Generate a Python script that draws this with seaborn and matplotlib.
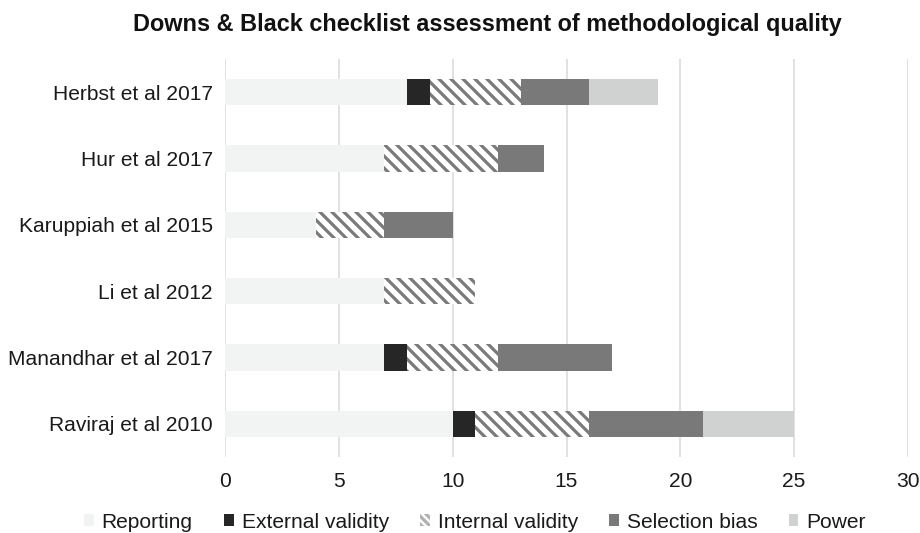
import numpy as np
import pandas as pd
import seaborn as sns
import matplotlib.pyplot as plt
from matplotlib.patches import Patch

# values
studies = ["Herbst et al 2017", "Hur et al 2017", "Karuppiah et al 2015",
           "Li et al 2012", "Manandhar et al 2017", "Raviraj et al 2010"]
reporting = [8, 7, 4, 7, 7, 10]
external_validity = [1, 0, 0, 0, 1, 1]
internal_validity = [4, 5, 3, 4, 4, 5]
selection_bias = [3, 2, 3, 0, 5, 5]
power = [3, 0, 0, 0, 0, 4]

categories = ["Reporting", "External validity", "Internal validity", "Selection bias", "Power"]
colors = ["#f2f4f3", "#262626", "#ffffff", "#797979", "#d0d2d1"]
hatches = [None, None, "\\\\", None, None]

sns.set_theme(style="white")
plt.rcParams["font.family"] = ["Liberation Sans", "DejaVu Sans"]
plt.rcParams["hatch.linewidth"] = 3.2
plt.rcParams["hatch.color"] = "#7a7a7a"

DPI = 72
fig = plt.figure(figsize=(920 / DPI, 533 / DPI), dpi=DPI)
ax = fig.add_axes([225 / 920, 1 - 457 / 533, 683 / 920, 398 / 533])

df = pd.DataFrame({"study": studies, "Reporting": reporting,
                   "External validity": external_validity,
                   "Internal validity": internal_validity,
                   "Selection bias": selection_bias, "Power": power})
cum = df[categories].cumsum(axis=1)

# draw cumulative totals from widest to narrowest so segments stack
for i in reversed(range(len(categories))):
    cat = categories[i]
    kw = dict(linewidth=0)
    if hatches[i]:
        kw.update(hatch=hatches[i], edgecolor="#7a7a7a")
    sns.barplot(x=cum[cat], y=df["study"], orient="h", color=colors[i],
                saturation=1, width=0.4, ax=ax, **kw)

ax.set_xlim(0, 30)
ax.set_ylim(5.5, -0.5)
ax.set_xticks(range(0, 31, 5))
ax.set_xlabel("")
ax.set_ylabel("")
ax.grid(axis="x", color="#dedede", linewidth=1.8)
ax.set_axisbelow(True)
for s in ax.spines.values():
    s.set_visible(False)
ax.tick_params(axis="both", length=0, labelsize=21, colors="#1a1a1a")
ax.tick_params(axis="y", pad=12)
ax.tick_params(axis="x", pad=15)

fig.text(487 / 920, 1 - 24 / 533, "Downs & Black checklist assessment of methodological quality",
         ha="center", va="center", fontsize=23.5, fontweight="bold", color="#111111")

handles = []
for i, cat in enumerate(categories):
    if hatches[i]:
        handles.append(Patch(facecolor=colors[i], edgecolor="#b0b0b0", hatch="\\\\\\", linewidth=0, label=cat))
    else:
        handles.append(Patch(facecolor=colors[i], linewidth=0, label=cat))
fig.legend(handles=handles, loc="center", bbox_to_anchor=(475 / 920, 1 - 522 / 533), ncol=5,
           frameon=False, fontsize=21, handlelength=0.45, handleheight=0.45,
           handletextpad=0.38, columnspacing=1.5, labelcolor="#1a1a1a")

fig.savefig("out.png", dpi=DPI)
